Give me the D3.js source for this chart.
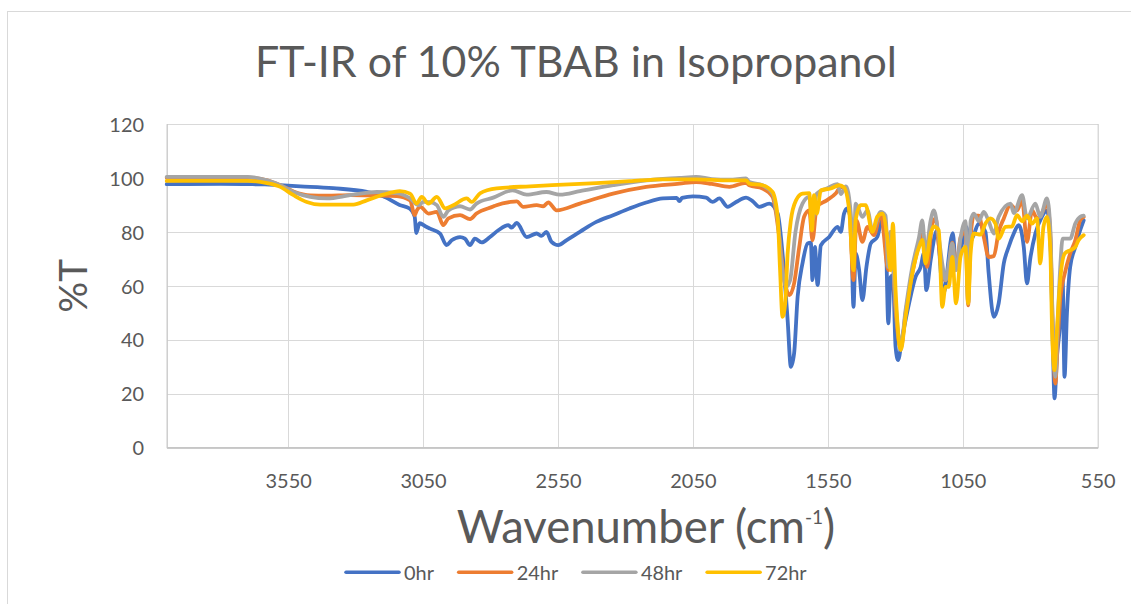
<!DOCTYPE html>
<html><head><meta charset="utf-8">
<script src="https://cdn.jsdelivr.net/npm/d3@7"></script>
<style>
body{margin:0;background:#fff;}
text{font-family:Lato,'Open Sans',sans-serif;fill:#595959;}
</style>
</head><body>
<svg id="c" width="1131" height="604"></svg>
<script>
const chartTitle = "FT-IR of 10% TBAB in Isopropanol";
const seriesNames = ["0hr", "24hr", "48hr", "72hr"];
const seriesColors = ["#4472C4", "#ED7D31", "#A5A5A5", "#FFC000"];
const xTicks = [3550, 3050, 2550, 2050, 1550, 1050, 550];
const yTicks = [0, 20, 40, 60, 80, 100, 120];

// 0hr
const wn0 = [4000,3800,3700,3636,3580,3505,3383,3258,3198,3137,3100,3081,3075,3063,3040,3024,2987,2963,2944,2913,2895,2876,2858,2833,2802,2771,2734,2722,2703,2666,2629,2611,2593,2574,2549,2519,2469,2408,2346,2285,2223,2161,2110,2100,2090,2050,2001,1977,1952,1921,1890,1853,1830,1804,1767,1736,1718,1699,1687,1675,1662,1644,1625,1613,1607,1598,1588,1576,1545,1514,1502,1490,1478,1465,1455,1447,1434,1422,1407,1391,1367,1348,1336,1326,1317,1309,1299,1290,1274,1249,1225,1206,1194,1185,1169,1146,1122,1087,1075,1052,1037,1025,1009,991,966,954,935,917,898,880,861,843,824,812,800,781,757,738,726,716,710,701,689,680,673,664,652,633,615,602];
const t0 = [97.7,97.8,97.7,97.6,97.3,96.9,96.2,94.8,93.2,90.0,88.7,85.6,79.6,83.2,82.0,81.2,79.4,75.1,76.9,78.1,77.5,75.1,77.5,76.1,78.1,80.6,82.5,81.6,83.3,78.1,79.4,78.5,80.0,76.3,75.1,76.9,80.0,83.7,86.2,88.7,90.9,92.4,92.6,91.4,92.6,93.2,92.7,91.1,92.4,89.3,91.1,92.7,91.5,89.3,90.5,86.8,72.0,47.3,30.0,35.0,55.9,68.3,75.7,76.0,62.1,74.4,60.3,75.0,78.1,81.9,80.0,86.8,88.7,84.3,52.2,72.0,65.8,54.7,67.0,75.7,78.1,84.3,80.6,46.1,63.3,64.0,37.4,32.5,41.1,53.5,63.3,67.0,72.0,58.4,69.5,80.5,57.0,79.5,67.0,76.0,81.9,76.0,79.0,83.1,80.0,64.6,48.5,53.5,68.3,74.4,79.4,82.5,74.4,60.9,70.0,79.4,85.6,88.0,78.0,37.4,18.3,33.7,46.1,62.1,26.3,49.8,67.0,74.4,80.6,84.3];

// 24hr
const wn24 = [4000,3700,3628,3579,3530,3468,3406,3320,3221,3147,3098,3081,3073,3060,3030,2999,2975,2956,2913,2876,2852,2790,2778,2726,2703,2679,2629,2605,2586,2555,2469,2346,2223,2100,2038,1980,1915,1853,1841,1792,1755,1730,1711,1692,1675,1656,1638,1619,1607,1591,1554,1521,1502,1483,1471,1455,1444,1422,1403,1379,1354,1326,1317,1299,1280,1262,1237,1212,1200,1182,1163,1150,1139,1126,1114,1102,1089,1075,1058,1040,1030,1021,1009,991,972,954,935,917,898,873,849,830,812,793,775,757,738,726,716,707,698,688,672,652,633,615,602];
const t24 = [100.1,100.1,99.1,97.3,95.0,93.5,93.4,93.6,93.5,93.3,91.7,86.2,88.0,89.3,86.8,87.4,82.5,85.0,86.2,84.7,86.8,89.4,89.9,91.1,91.3,89.3,89.9,89.5,90.9,88.0,90.5,94.2,96.7,97.9,98.5,97.8,96.7,98.2,97.3,96.1,93.0,78.1,62.1,56.6,60.9,74.4,85.6,88.0,76.9,89.3,91.7,94.2,96.7,95.4,90.0,62.1,84.3,76.3,81.9,78.8,86.8,65.8,80.0,51.0,36.8,49.8,64.6,75.7,80.6,67.0,83.1,85.0,75.0,64.0,62.0,66.0,76.0,66.0,78.0,80.0,52.8,78.0,86.0,86.0,78.0,70.7,71.0,80.0,85.0,90.0,88.0,91.7,76.3,88.0,85.0,87.0,90.5,80.0,42.0,23.8,40.0,55.9,64.6,72.0,76.9,84.3,85.5];

// 48hr
const wn48 = [4000,3700,3628,3579,3530,3468,3406,3320,3221,3147,3098,3067,3049,3024,2999,2975,2956,2913,2876,2852,2790,2718,2666,2593,2543,2469,2346,2223,2100,2038,1980,1915,1853,1841,1792,1755,1736,1718,1705,1690,1670,1644,1619,1607,1591,1554,1514,1502,1483,1465,1455,1447,1422,1403,1385,1354,1336,1326,1317,1299,1280,1262,1237,1212,1200,1188,1169,1157,1139,1126,1114,1102,1089,1075,1058,1040,1030,1021,1009,991,972,954,935,917,873,861,830,812,781,763,738,726,716,707,698,688,680,652,633,615,602];
const t48 = [100.4,100.4,99.1,97.3,94.8,93.0,92.4,93.6,94.8,94.4,92.4,89.9,91.1,91.0,89.9,85.6,88.0,89.5,88.3,90.5,92.7,95.4,93.8,94.8,93.8,95.1,97.3,99.1,100.0,100.4,99.6,99.4,99.8,98.5,97.3,94.2,84.3,65.8,59.6,62.0,80.0,90.5,93.0,84.3,94.2,96.1,97.7,94.0,96.9,86.8,67.0,90.5,85.6,88.0,80.6,87.4,86.0,67.0,80.0,53.5,37.4,51.0,67.0,78.1,84.3,72.0,84.3,88.0,78.0,68.3,62.1,68.0,75.7,65.8,78.0,84.0,53.5,84.0,86.8,84.0,87.4,84.0,79.4,85.6,90.5,87.0,93.6,85.0,90.5,85.6,92.4,82.0,43.6,26.3,47.3,68.3,77.5,77.5,83.1,85.6,86.0];

// 72hr
const wn72 = [4000,3700,3628,3579,3530,3481,3431,3308,3259,3197,3136,3098,3074,3055,3030,2999,2968,2938,2888,2870,2839,2777,2654,2531,2408,2285,2161,2038,1915,1853,1841,1792,1755,1736,1727,1718,1708,1699,1687,1668,1644,1619,1609,1601,1591,1576,1539,1508,1490,1471,1455,1447,1428,1410,1385,1367,1348,1330,1317,1309,1299,1280,1262,1237,1212,1200,1188,1169,1157,1139,1126,1114,1102,1089,1075,1058,1040,1030,1021,1009,984,966,948,929,917,892,868,849,830,812,793,775,763,751,738,726,718,710,701,689,672,652,633,621,602];
const t72 = [98.9,98.9,98.1,96.7,93.6,91.1,90.1,90.1,91.7,93.8,95.1,94.2,90.5,93.0,90.5,93.0,88.7,89.9,92.4,91.1,94.3,96.1,96.9,97.5,98.1,98.8,99.5,99.5,99.1,99.1,97.9,97.3,94.8,85.6,65.8,48.5,53.5,72.0,84.3,91.7,94.2,94.4,80.6,93.6,86.8,95.4,96.1,97.3,96.5,88.0,65.8,84.3,89.9,89.9,80.0,85.6,86.8,78.1,65.8,83.1,58.4,36.2,48.5,64.6,74.4,77.0,68.3,79.4,82.0,80.6,52.2,59.6,59.6,70.7,53.5,71.0,74.4,53.5,72.0,79.4,79.0,83.1,85.0,83.0,77.5,81.9,82.0,86.2,84.0,86.0,83.1,85.0,68.3,81.9,85.6,74.4,39.9,28.8,43.6,62.1,72.0,73.2,74.4,76.9,78.8];

const seriesWn = [wn0, wn24, wn48, wn72];
const seriesT = [t0, t24, t48, t72];

function fitWidth(sel, target) {
  const fs = parseFloat(sel.attr("font-size"));
  const w = sel.node().getBBox().width;
  sel.attr("font-size", fs * target / w);
  return fs * target / w;
}

function draw() {
  const svg = d3.select("#c");
  svg.append("rect").attr("width", 1131).attr("height", 604).attr("fill", "#fff");
  svg.append("rect").attr("x", 7.5).attr("y", 11.5).attr("width", 1150).attr("height", 620)
    .attr("fill", "none").attr("stroke", "#D9D9D9").attr("stroke-width", 1);

  const P = {left: 166.7, right: 1097.7, top: 124, bottom: 447.7};
  const x = d3.scaleLinear().domain([4000, 550]).range([P.left, P.right]);
  const y = d3.scaleLinear().domain([0, 120]).range([P.bottom, P.top]);

  const probe = svg.append("text").attr("font-size", 20).text("120");
  const tickFs = fitWidth(probe, 34.7);
  probe.remove();

  const gy = svg.append("g").attr("transform", `translate(${P.left},0)`)
    .call(d3.axisLeft(y).tickValues(yTicks).tickSize(-(P.right - P.left)).tickFormat(d => d));
  gy.select(".domain").attr("stroke", "#D9D9D9");
  gy.selectAll(".tick line").attr("stroke", "#D9D9D9").attr("shape-rendering", "crispEdges");
  gy.selectAll(".tick text").attr("font-size", tickFs).attr("x", 144 - P.left).attr("dy", 0).attr("y", tickFs * 0.36)
    .attr("fill", "#595959").attr("font-family", "Lato,'Open Sans',sans-serif").attr("text-anchor", "end");

  const gx = svg.append("g").attr("transform", `translate(0,${P.bottom})`)
    .call(d3.axisBottom(x).tickValues(xTicks).tickSize(-(P.bottom - P.top)).tickFormat(d => d));
  gx.select(".domain").attr("stroke", "#C6C6C6");
  gx.selectAll(".tick line").attr("stroke", "#D9D9D9").attr("shape-rendering", "crispEdges");
  gx.selectAll(".tick text").attr("font-size", tickFs).attr("dy", 0).attr("y", 488 - P.bottom)
    .attr("fill", "#595959").attr("font-family", "Lato,'Open Sans',sans-serif");
  svg.append("line").attr("x1", P.left).attr("x2", P.right).attr("y1", P.bottom).attr("y2", P.bottom)
    .attr("stroke", "#C6C6C6").attr("shape-rendering", "crispEdges");

  const line = d3.line().x(d => x(d[0])).y(d => y(d[1])).curve(d3.curveMonotoneX);
  seriesNames.forEach((name, i) => {
    const pts = seriesWn[i].map((w, j) => [w, seriesT[i][j]]);
    svg.append("path").datum(pts).attr("d", line)
      .attr("fill", "none").attr("stroke", seriesColors[i]).attr("stroke-width", 3.8)
      .attr("stroke-linejoin", "round").attr("stroke-linecap", "round");
  });

  const title = svg.append("text").attr("x", 255).attr("y", 77.3).attr("font-size", 40).text(chartTitle);
  fitWidth(title, 642);

  const xt = svg.append("text").attr("x", 456.7).attr("y", 543.3).attr("font-size", 40);
  xt.append("tspan").text("Wavenumber (cm");
  const sup = xt.append("tspan").attr("font-size", 18).text("-1");
  const close = xt.append("tspan").text(")");
  fitWidth(xt, 380);
  const xfs = parseFloat(xt.attr("font-size"));
  sup.attr("font-size", xfs * 0.42).attr("dy", -xfs * 0.42);
  close.attr("dy", xfs * 0.42);

  const yt = svg.append("text").attr("transform", `translate(87,${(P.top + P.bottom) / 2}) rotate(-90)`)
    .attr("text-anchor", "middle").attr("font-size", 40).text("%T");
  fitWidth(yt, 54);

  let lx = 346;
  const ly = 572.3;
  seriesNames.forEach((name, i) => {
    svg.append("line").attr("x1", lx).attr("x2", lx + 53).attr("y1", ly).attr("y2", ly)
      .attr("stroke", seriesColors[i]).attr("stroke-width", 3.5).attr("stroke-linecap", "round");
    const t = svg.append("text").attr("x", lx + 58).attr("y", 580).attr("font-size", tickFs).text(name);
    lx = lx + 58 + t.node().getBBox().width + 24;
  });
}

if (document.fonts && document.fonts.load) {
  document.fonts.load("20px Lato").then(draw, draw);
} else { draw(); }
</script>
</body></html>
